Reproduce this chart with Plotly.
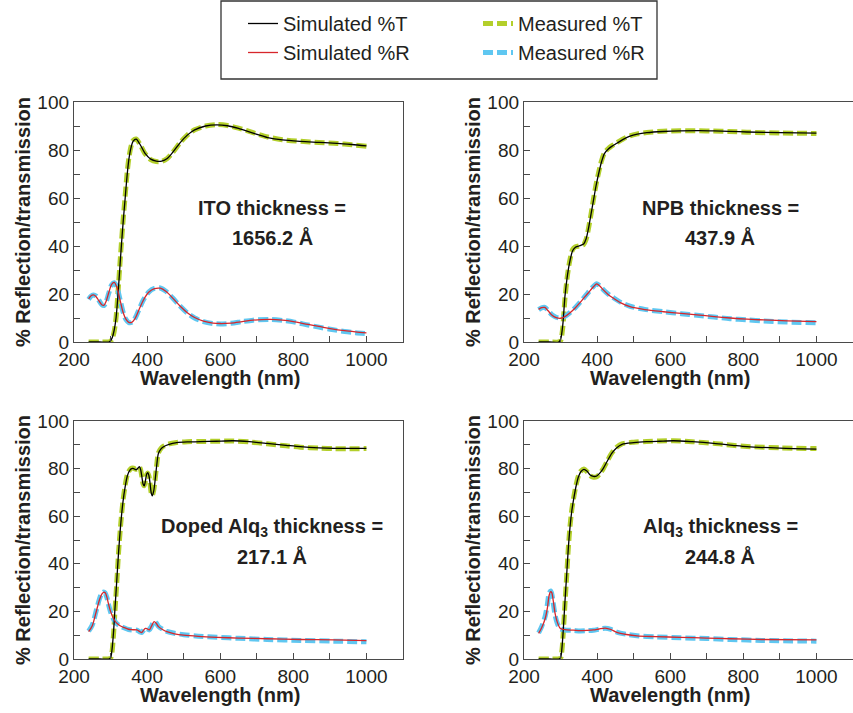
import plotly.graph_objects as go

# ---------------- data ----------------
# Panel 1: ITO
ito_lam_T = [240, 270, 295, 300, 305, 310, 315, 320, 325, 330, 335, 340, 345, 350, 356, 362, 370, 380, 395, 410, 425, 440, 455, 470, 490, 510, 530, 560, 590, 620, 650, 690, 730, 770, 820, 870, 920, 960, 1000]
ito_T_sim = [0, 0, 0, 0.5, 2, 5, 10, 19, 30, 41, 51, 60, 69, 76, 81, 83.7, 84.5, 82.5, 78.5, 76.2, 75.4, 75.4, 76.5, 79, 83, 86.2, 88.4, 90, 90.5, 90.1, 89, 87, 85.2, 84.2, 83.6, 83.2, 82.8, 82.3, 81.7]
ito_T_meas = [0, 0, 0, 0.3, 1.5, 4.5, 10, 20, 31, 42, 52, 61, 70, 76.5, 81.5, 84, 84.6, 82.5, 78.3, 76, 75.2, 75.3, 76.5, 79, 83, 86.2, 88.4, 90, 90.6, 90.2, 89.1, 87.2, 85.4, 84.3, 83.6, 83.1, 82.7, 82.2, 81.6]
ito_lam_R = [240, 246, 253, 260, 268, 276, 282, 288, 295, 303, 310, 318, 326, 334, 342, 350, 358, 366, 376, 390, 405, 420, 436, 452, 470, 490, 510, 530, 554, 580, 600, 630, 660, 690, 737, 770, 800, 840, 870, 901, 940, 970, 1000]
ito_R_sim = [18, 19.2, 19.6, 19, 17.2, 15.5, 15.3, 17, 20.5, 24, 24.8, 22.5, 17.5, 12.5, 9.5, 8.2, 8.2, 9.5, 12.8, 17.5, 20.8, 22.2, 22.4, 21, 18.3, 15, 12.2, 10.2, 8.7, 7.9, 7.7, 7.9, 8.5, 9.1, 9.4, 9.1, 8.5, 7.3, 6.5, 5.6, 4.7, 4.2, 3.8]
ito_R_meas = [17.8, 19, 19.6, 19.2, 17.4, 15.6, 15.2, 16.8, 20.3, 23.8, 24.7, 22.6, 17.7, 12.6, 9.4, 8.1, 8.2, 9.6, 12.9, 17.6, 20.9, 22.3, 22.5, 21.1, 18.3, 15, 12.1, 10, 8.5, 7.7, 7.5, 7.8, 8.5, 9.1, 9.4, 9.0, 8.4, 7.1, 6.2, 5.3, 4.4, 3.9, 3.5]

# Panel 2: NPB
npb_lam_T = [240, 270, 295, 300, 306, 312, 319, 326, 333, 340, 350, 363, 370, 376, 383, 390, 397, 404, 412, 420, 430, 440, 454, 470, 490, 510, 536, 580, 627, 680, 719, 760, 810, 900, 1000]
npb_T_sim = [0, 0, 0, 1, 7, 19, 28, 34, 38, 39.4, 40, 40.8, 43, 47, 53, 59, 65, 70, 75, 78.5, 80.3, 81.5, 82.8, 84.3, 85.8, 86.6, 87.2, 87.7, 88, 88.1, 88, 87.8, 87.5, 87.2, 87]
npb_T_meas = [0, 0, 0, 0.5, 6, 18, 28, 34.5, 38.5, 39.6, 40, 40.6, 42.8, 47, 53, 59.5, 65.5, 70.5, 75.5, 78.8, 80.5, 81.7, 83, 84.5, 85.9, 86.7, 87.3, 87.8, 88, 88, 87.9, 87.7, 87.4, 87.1, 86.9]
npb_lam_R = [240, 248, 257, 266, 276, 288, 300, 312, 326, 340, 352, 363, 375, 387, 399, 408, 417, 430, 445, 465, 490, 530, 582, 630, 673, 720, 764, 810, 856, 920, 1000]
npb_R_sim = [13.6, 14.3, 14.4, 13, 11.3, 10.2, 9.9, 10.6, 12.2, 14.2, 16.2, 18.2, 20.3, 22.5, 24.2, 23.2, 21.7, 19.8, 18.2, 16.3, 14.7, 13.5, 12.6, 11.9, 11.3, 10.6, 10, 9.5, 9.2, 8.8, 8.5]
npb_R_meas = [13.5, 14.2, 14.4, 13.1, 11.4, 10.3, 10, 10.7, 12.3, 14.3, 16.3, 18.3, 20.5, 22.7, 24.3, 23.3, 21.8, 20, 18.4, 16.5, 14.9, 13.6, 12.6, 11.8, 11.1, 10.4, 9.7, 9.2, 8.8, 8.3, 8.0]

# Panel 3: Doped Alq3
dal_lam_T = [240, 270, 295, 300, 304, 308, 312, 317, 322, 328, 334, 340, 346, 353, 358, 363, 368, 372, 376, 379, 382, 385, 389, 392, 395, 399, 402, 405, 408, 411, 414, 418, 422, 426, 431, 438, 445, 460, 481, 510, 545, 590, 636, 680, 728, 780, 819, 870, 910, 1000]
dal_T_sim = [0, 0, 0, 0.5, 4, 11, 21, 33, 45, 57, 66, 72.4, 77, 79.4, 80, 80, 79.6, 79.7, 80.4, 80.8, 79.8, 77.3, 73.5, 72.7, 74.5, 77.8, 78.3, 77, 73.8, 70, 68.5, 70.5, 75.2, 81, 86.4, 88.3, 89.2, 90.2, 90.9, 91.2, 91.3, 91.5, 91.7, 91.3, 90.6, 89.8, 89.2, 88.7, 88.5, 88.5]
dal_T_meas = [0, 0, 0, 0.3, 3, 10, 20, 32, 45, 57, 66.5, 73, 77.5, 79.6, 80.2, 80.2, 79.8, 79.8, 80.4, 80.6, 79.6, 77.2, 73.6, 72.8, 74.5, 77.6, 78.1, 76.8, 73.6, 70, 68.7, 70.8, 75.5, 81.2, 86.6, 88.5, 89.4, 90.4, 91, 91.3, 91.4, 91.5, 91.6, 91.2, 90.4, 89.6, 89, 88.6, 88.4, 88.4]
dal_lam_R = [240, 250, 262, 270, 276, 281, 285, 290, 294, 300, 308, 316, 326, 337, 349, 360, 372, 380, 385, 390, 395, 400, 406, 412, 419, 425, 431, 442, 454, 475, 500, 540, 591, 650, 728, 820, 910, 1000]
dal_R_sim = [11.5, 14, 20.6, 25, 27.3, 28, 27.9, 26, 23.4, 20, 17, 15.2, 14, 13.2, 12.5, 12.3, 12.2, 11.5, 11.1, 12, 12.9, 12.7, 12.2, 13.8, 15.7, 15, 13.6, 12.4, 11.5, 10.6, 10, 9.5, 9.1, 8.8, 8.5, 8.2, 8, 7.7]
dal_R_meas = [11.7, 14.3, 21, 25.4, 27.6, 28.2, 27.8, 25.8, 23.2, 19.8, 16.8, 15, 13.9, 13.1, 12.4, 12.2, 12.1, 11.4, 11.1, 12, 12.9, 12.7, 12.2, 13.8, 15.8, 15.1, 13.7, 12.5, 11.6, 10.8, 10.2, 9.6, 9.1, 8.7, 8.2, 7.8, 7.5, 7.2]

# Panel 4: Alq3
alq_lam_T = [240, 270, 295, 300, 304, 308, 312, 317, 321, 326, 331, 337, 343, 349, 356, 364, 372, 381, 390, 399, 408, 417, 428, 440, 453, 468, 500, 536, 570, 609, 660, 719, 770, 810, 900, 1000]
alq_T_sim = [0, 0, 0, 0.5, 5, 13.6, 24, 36, 46, 55.6, 62.5, 68.2, 73, 76.6, 78.8, 79.7, 79, 77.3, 76.7, 76.9, 78.2, 80.1, 83.2, 86.4, 88.7, 90.2, 90.9, 91.3, 91.5, 91.7, 91.3, 90.6, 89.8, 89.2, 88.6, 88.2]
alq_T_meas = [0, 0, 0, 0.3, 4, 12.5, 23, 35.5, 46, 56, 63, 68.8, 73.5, 77, 79, 79.8, 78.8, 77, 76.4, 76.6, 78, 80, 83.2, 86.5, 88.9, 90.4, 91.1, 91.4, 91.6, 91.7, 91.3, 90.6, 89.8, 89.3, 88.7, 88.4]
alq_lam_R = [240, 248, 258, 264, 269, 273, 276, 280, 285, 291, 299, 308, 317, 335, 353, 372, 390, 405, 422, 438, 454, 480, 509, 560, 627, 700, 764, 850, 1000]
alq_R_sim = [10.8, 13, 17, 21.5, 26.9, 28.3, 27.9, 24.5, 19.2, 15.5, 12.9, 12.4, 12.2, 12.1, 11.9, 12, 12.2, 12.6, 13, 12.4, 11.2, 10.3, 9.7, 9.4, 9.1, 8.8, 8.5, 8.2, 8]
alq_R_meas = [11, 13.5, 18, 23, 27.8, 28.6, 27.4, 23.5, 18.5, 15, 12.8, 12.3, 12.1, 12, 11.8, 11.9, 12.1, 12.5, 12.9, 12.4, 11.3, 10.4, 9.8, 9.3, 8.9, 8.6, 8.2, 7.8, 7.5]

panels = [
    (ito_lam_T, ito_T_sim, ito_T_meas, ito_lam_R, ito_R_sim, ito_R_meas),
    (npb_lam_T, npb_T_sim, npb_T_meas, npb_lam_R, npb_R_sim, npb_R_meas),
    (dal_lam_T, dal_T_sim, dal_T_meas, dal_lam_R, dal_R_sim, dal_R_meas),
    (alq_lam_T, alq_T_sim, alq_T_meas, alq_lam_R, alq_R_sim, alq_R_meas),
]
labels_line1 = ["ITO thickness =", "NPB thickness =", "Doped Alq<sub>3</sub> thickness =", "Alq<sub>3</sub> thickness ="]
labels_line2 = ["1656.2 Å", "437.9 Å", "217.1 Å", "244.8 Å"]
series_names = ["Simulated %T", "Simulated %R", "Measured %T", "Measured %R"]
y_ticks = [0, 20, 40, 60, 80, 100]
x_ticks = [200, 400, 600, 800, 1000]

# ---------------- styling ----------------
W, H = 853, 713
FONT = "Liberation Sans, Arial, Helvetica, sans-serif"
TXT = "#231f20"
C_SIM_T = "#000000"
C_SIM_R = "#d7262b"
C_MEAS_T = "#b3cf2b"
C_MEAS_R = "#5fc7f1"
AXC = "#4a4a4a"

# panel geometry in pixels (left, right, top, bottom)
geo = [(74, 403, 102, 342), (524, 853, 102, 342), (74, 403, 421, 659), (524, 853, 421, 659)]

def px_x(p):
    return p / W

def px_y(p):
    return 1 - p / H

fig = go.Figure()

for i, (lt, ts, tm, lr, rs, rm) in enumerate(panels):
    xa = "x" if i == 0 else f"x{i+1}"
    ya = "y" if i == 0 else f"y{i+1}"
    show = i == 0
    # measured (thick dashed) underneath
    fig.add_trace(go.Scatter(x=lt, y=tm, xaxis=xa, yaxis=ya, mode="lines", name=series_names[2],
                             line=dict(color=C_MEAS_T, width=5, dash="10px,4px", shape="spline", smoothing=0.8),
                             legend="legend2", showlegend=show, legendrank=1))
    fig.add_trace(go.Scatter(x=lr, y=rm, xaxis=xa, yaxis=ya, mode="lines", name=series_names[3],
                             line=dict(color=C_MEAS_R, width=5, dash="10px,4px", shape="spline", smoothing=0.8),
                             legend="legend2", showlegend=show, legendrank=2))
    fig.add_trace(go.Scatter(x=lt, y=ts, xaxis=xa, yaxis=ya, mode="lines", name=series_names[0],
                             line=dict(color=C_SIM_T, width=1.3, shape="spline", smoothing=0.8),
                             legend="legend", showlegend=show, legendrank=1))
    fig.add_trace(go.Scatter(x=lr, y=rs, xaxis=xa, yaxis=ya, mode="lines", name=series_names[1],
                             line=dict(color=C_SIM_R, width=1.3, shape="spline", smoothing=0.8),
                             legend="legend", showlegend=show, legendrank=2))

layout = dict(
    width=W, height=H,
    margin=dict(l=0, r=0, t=0, b=0, autoexpand=False),
    paper_bgcolor="white", plot_bgcolor="white",
    font=dict(family=FONT, size=19, color=TXT),
    showlegend=True,
)

annotations = []
for i, (l, r, t, b) in enumerate(geo):
    xk = "xaxis" if i == 0 else f"xaxis{i+1}"
    yk = "yaxis" if i == 0 else f"yaxis{i+1}"
    xa = "x" if i == 0 else f"x{i+1}"
    ya = "y" if i == 0 else f"y{i+1}"
    layout[xk] = dict(
        domain=[px_x(l), min(px_x(r), 1.0)], anchor=ya, range=[200, 1100],
        tickvals=x_ticks, ticks="inside", ticklen=6, tickwidth=1.2, tickcolor=AXC,
        minor=dict(dtick=100, tick0=200, ticks="inside", ticklen=6, tickwidth=1.2, tickcolor=AXC),
        showline=True, linecolor=AXC, linewidth=1.3, mirror=True,
        showgrid=False, zeroline=False, tickfont=dict(size=19, color=TXT), automargin=False,
    )
    layout[yk] = dict(
        domain=[px_y(b), px_y(t)], anchor=xa, range=[0, 100],
        tickvals=y_ticks, ticks="inside", ticklen=6, tickwidth=1.2, tickcolor=AXC,
        minor=dict(dtick=10, tick0=0, ticks="inside", ticklen=6, tickwidth=1.2, tickcolor=AXC),
        showline=True, linecolor=AXC, linewidth=1.3, mirror=True,
        showgrid=False, zeroline=False, tickfont=dict(size=19, color=TXT), automargin=False,
        title=dict(text="% Reflection/transmission", font=dict(size=20, weight="bold", color=TXT), standoff=1),
    )
    # x-axis title, centred under the data span
    annotations.append(dict(text="Wavelength (nm)", xref=xa, yref="paper", x=600, y=px_y(b + 36),
                            showarrow=False, font=dict(size=20, weight="bold", color=TXT),
                            xanchor="center", yanchor="middle"))
    cx = l + (272 - 74) + (0 if i % 2 == 0 else -2)
    cy1 = t + 106
    cy2 = t + 135
    annotations.append(dict(text=labels_line1[i], xref="paper", yref="paper", x=px_x(cx), y=px_y(cy1),
                            showarrow=False, font=dict(size=20, weight="bold", color=TXT),
                            xanchor="center", yanchor="middle"))
    annotations.append(dict(text=labels_line2[i], xref="paper", yref="paper", x=px_x(cx), y=px_y(cy2),
                            showarrow=False, font=dict(size=20, weight="bold", color=TXT),
                            xanchor="center", yanchor="middle"))

layout["annotations"] = annotations
layout["legend"] = dict(x=px_x(243), y=px_y(4), xanchor="left", yanchor="top", orientation="v",
                        bgcolor="rgba(0,0,0,0)", borderwidth=0, font=dict(size=20, color=TXT),
                        tracegroupgap=0)
layout["legend2"] = dict(x=px_x(478), y=px_y(4), xanchor="left", yanchor="top", orientation="v",
                         bgcolor="rgba(0,0,0,0)", borderwidth=0, font=dict(size=20, color=TXT),
                         tracegroupgap=0)
layout["shapes"] = [dict(type="rect", xref="paper", yref="paper", x0=px_x(221), x1=px_x(657),
                         y0=px_y(79), y1=px_y(1), line=dict(color="#333333", width=1.3),
                         fillcolor="rgba(0,0,0,0)", layer="above")]

fig.update_layout(**layout)
# the page's default 8px body margin would offset the figure inside the 853x713 window
fig.write_html("out.html", config={"displayModeBar": False},
               post_script="document.body.style.margin='0';")
